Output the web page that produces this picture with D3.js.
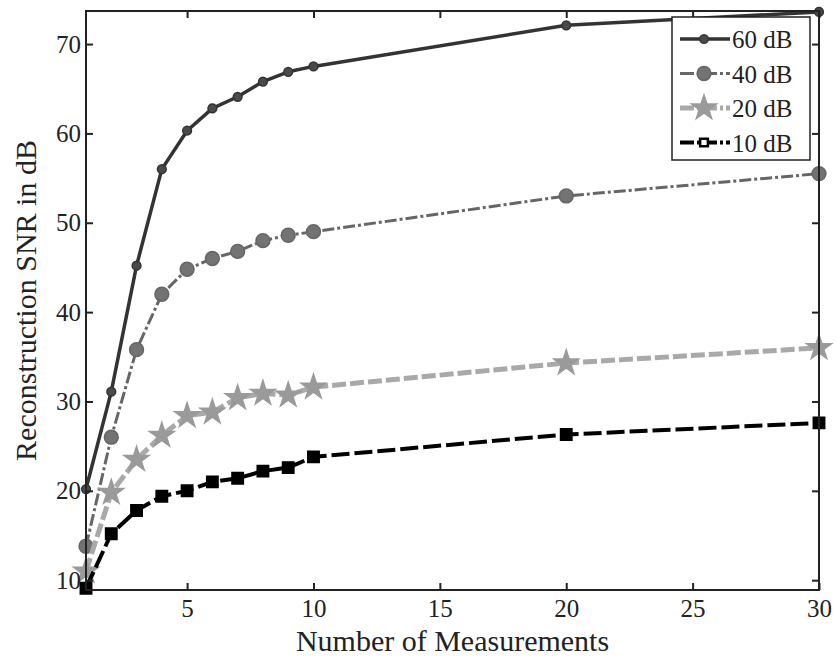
<!DOCTYPE html>
<html>
<head>
<meta charset="utf-8">
<script src="https://cdn.jsdelivr.net/npm/d3@7"></script>
<style>
  body { margin: 0; background: #fff; }
  svg text { font-family: "Liberation Serif", "Times New Roman", serif; fill: #222; }
</style>
</head>
<body>
<svg id="chart" width="836" height="659"></svg>
<script>
var measurements = [1, 2, 3, 4, 5, 6, 7, 8, 9, 10, 20, 30];
var snr60 = [20.2, 31.1, 45.2, 56.0, 60.3, 62.8, 64.1, 65.8, 66.9, 67.5, 72.1, 73.6];
var snr40 = [13.8, 26.0, 35.8, 42.0, 44.8, 46.0, 46.8, 48.0, 48.6, 49.0, 53.0, 55.5];
var snr20 = [11.0, 19.8, 23.5, 26.2, 28.4, 28.8, 30.4, 30.9, 30.7, 31.6, 34.3, 36.0];
var snr10 = [9.1, 15.2, 17.8, 19.4, 20.0, 21.0, 21.4, 22.2, 22.6, 23.8, 26.3, 27.6];
var seriesNames = ["60 dB", "40 dB", "20 dB", "10 dB"];
var xTicks = [5, 10, 15, 20, 25, 30];
var yTicks = [10, 20, 30, 40, 50, 60, 70];

// plot box (top is a reserved window prop, so use a margin object)
var box = {left: 86, right: 819, top: 11, bottom: 590};

var svg = d3.select("#chart");

var xScale = d3.scaleLinear().domain([1, 30]).range([box.left, box.right]);
var yScale = d3.scaleLinear().domain([8.9, 73.7]).range([box.bottom, box.top]);

// look of each series (matlab-ish line specs)
var styles = [
  {data: snr60, color: "#333", width: 3.5, dash: null, symbol: d3.symbolCircle, size: 60, fill: "#4a4a4a", stroke: "#333"},
  {data: snr40, color: "#666", width: 3, dash: "12,3,3,3", symbol: d3.symbolCircle, size: 150, fill: "#737373", stroke: "#666"},
  {data: snr20, color: "#a9a9a9", width: 5, dash: "14,4", symbol: d3.symbolStar, size: 190, fill: "#9a9a9a", stroke: "#9a9a9a"},
  {data: snr10, color: "#000", width: 4, dash: "18,5", symbol: d3.symbolSquare, size: 130, fill: "#000", stroke: "#000"}
];

var line = d3.line()
  .x(function(d, i) { return xScale(measurements[i]); })
  .y(function(d) { return yScale(d); });

styles.forEach(function(s) {
  svg.append("path")
    .datum(s.data)
    .attr("d", line)
    .attr("fill", "none")
    .attr("stroke", s.color)
    .attr("stroke-width", s.width)
    .attr("stroke-dasharray", s.dash)
    .attr("stroke-linejoin", "round");

  svg.selectAll(null)
    .data(s.data)
    .enter().append("path")
    .attr("d", d3.symbol().type(s.symbol).size(s.size))
    .attr("transform", function(d, i) { return "translate(" + xScale(measurements[i]) + "," + yScale(d) + ")"; })
    .attr("fill", s.fill)
    .attr("stroke", s.stroke)
    .attr("stroke-width", 1.5);
});

// axes, ticks pointing inward on all four sides
function styleAxis(g) {
  g.select(".domain").remove();
  g.selectAll(".tick line").attr("stroke", "#222").attr("stroke-width", 2);
  g.selectAll(".tick text").attr("font-size", 25).attr("fill", "#222");
}

svg.append("g")
  .attr("transform", "translate(0," + box.bottom + ")")
  .call(d3.axisBottom(xScale).tickValues(xTicks).tickSize(-7).tickPadding(9))
  .call(styleAxis);
svg.append("g")
  .attr("transform", "translate(0," + box.top + ")")
  .call(d3.axisTop(xScale).tickValues(xTicks).tickSize(-7).tickFormat(""))
  .call(styleAxis);
svg.append("g")
  .attr("transform", "translate(" + box.left + ",0)")
  .call(d3.axisLeft(yScale).tickValues(yTicks).tickSize(-7).tickPadding(5))
  .call(styleAxis);
svg.append("g")
  .attr("transform", "translate(" + box.right + ",0)")
  .call(d3.axisRight(yScale).tickValues(yTicks).tickSize(-7).tickFormat(""))
  .call(styleAxis);

svg.append("rect")
  .attr("x", box.left).attr("y", box.top)
  .attr("width", box.right - box.left).attr("height", box.bottom - box.top)
  .attr("fill", "none").attr("stroke", "#222").attr("stroke-width", 2);

svg.append("text")
  .attr("x", (box.left + box.right) / 2).attr("y", 651)
  .attr("text-anchor", "middle").attr("font-size", 30)
  .text("Number of Measurements");

svg.append("text")
  .attr("transform", "translate(36," + (box.top + box.bottom) / 2 + ") rotate(-90)")
  .attr("text-anchor", "middle").attr("font-size", 30)
  .text("Reconstruction SNR in dB");

// legend
var legend = svg.append("g");
legend.append("rect")
  .attr("x", 672).attr("y", 17).attr("width", 138).attr("height", 143)
  .attr("fill", "#fff").attr("stroke", "#222").attr("stroke-width", 1.5);

styles.forEach(function(s, i) {
  var ly = 39 + i * 34.5;
  legend.append("line")
    .attr("x1", 680).attr("x2", 730).attr("y1", ly).attr("y2", ly)
    .attr("stroke", s.color).attr("stroke-width", s.width)
    .attr("stroke-dasharray", s.dash ? "14,3,3,3" : null);
  legend.append("path")
    .attr("d", d3.symbol().type(s.symbol).size(i == 3 ? 60 : s.size))
    .attr("transform", "translate(704," + ly + ")")
    .attr("fill", i == 3 ? "#fff" : s.fill)
    .attr("stroke", s.stroke)
    .attr("stroke-width", i == 3 ? 2.5 : 1.5);
  legend.append("text")
    .attr("x", 732).attr("y", ly + 9)
    .attr("font-size", 25)
    .text(seriesNames[i]);
});
</script>
</body>
</html>
